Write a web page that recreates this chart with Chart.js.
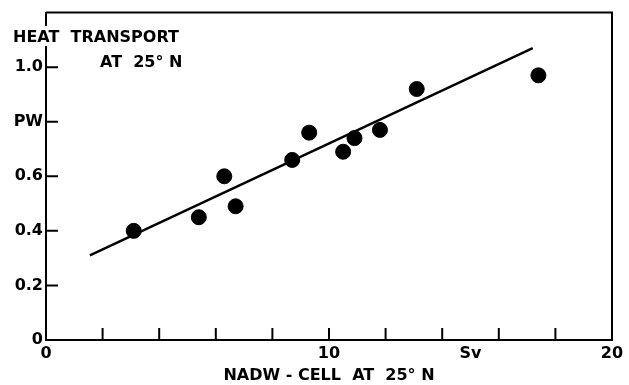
<!DOCTYPE html>
<html>
<head>
<meta charset="utf-8">
<script src="https://cdn.jsdelivr.net/npm/chart.js@4.4.1/dist/chart.umd.min.js"></script>
<style>
html,body{margin:0;padding:0;background:#fff;}
#wrap{width:629px;height:385px;position:relative;}
</style>
</head>
<body>
<div id="wrap"><canvas id="c" width="629" height="385"></canvas></div>
<script>
// NADW cell strength (Sv) and heat transport (PW) at 25°N
const nadwCell = [3.1, 5.4, 6.3, 6.7, 8.7, 9.3, 10.5, 10.9, 11.8, 13.1, 17.4];
const heatTransport = [0.40, 0.45, 0.60, 0.49, 0.66, 0.76, 0.69, 0.74, 0.77, 0.92, 0.97];
// regression line end points
const fitX = [1.55, 17.2];
const fitY = [0.31, 1.07];
// tick labels
const xTickLabels = {0: '0', 10: '10', 15: 'Sv', 20: '20'};
const yTickLabels = {0: '0', 0.2: '0.2', 0.4: '0.4', 0.6: '0.6', 0.8: 'PW', 1.0: '1.0'};
const xMarkTicks = [2, 4, 6, 8, 10, 12, 14, 16, 18];
const yMarkTicks = [0.2, 0.4, 0.6, 0.8, 1.0];
const yTitleLines = ['HEAT  TRANSPORT', 'AT  25° N'];
const xTitle = 'NADW - CELL  AT  25° N';

const FONT = 'DejaVu Sans';

const boxPlugin = {
  id: 'box',
  afterDraw(chart) {
    const ctx = chart.ctx, a = chart.chartArea;
    const xs = chart.scales.x, ys = chart.scales.y;
    ctx.save();
    ctx.strokeStyle = '#000';
    ctx.lineWidth = 2;
    // top and right borders
    ctx.beginPath();
    ctx.moveTo(a.left, a.top); ctx.lineTo(a.right, a.top); ctx.lineTo(a.right, a.bottom);
    ctx.stroke();
    // inward tick marks
    ctx.beginPath();
    xMarkTicks.forEach(v => { const px = xs.getPixelForValue(v); ctx.moveTo(px, a.bottom); ctx.lineTo(px, a.bottom - 12); });
    yMarkTicks.forEach(v => { const py = ys.getPixelForValue(v); ctx.moveTo(a.left, py); ctx.lineTo(a.left + 12, py); });
    ctx.stroke();
    // y title (overlaps the axis)
    ctx.font = 'bold 16px ' + FONT;
    ctx.textBaseline = 'alphabetic';
    ctx.textAlign = 'left';
    const w0 = ctx.measureText(yTitleLines[0]).width;
    ctx.fillStyle = '#fff';
    ctx.fillRect(12, 26, w0 + 4, 20);
    ctx.fillStyle = '#000';
    ctx.fillText(yTitleLines[0], 13, 42);
    ctx.fillText(yTitleLines[1], 100, 67);
    ctx.restore();
  }
};

new Chart(document.getElementById('c'), {
  type: 'scatter',
  data: {
    datasets: [
      {
        data: nadwCell.map((x, i) => ({x, y: heatTransport[i]})),
        backgroundColor: '#000', borderColor: '#000',
        pointRadius: 7.5, pointHoverRadius: 7.5, showLine: false
      },
      {
        data: fitX.map((x, i) => ({x, y: fitY[i]})),
        borderColor: '#000', borderWidth: 2.5, pointRadius: 0, showLine: true, fill: false
      }
    ]
  },
  plugins: [boxPlugin],
  options: {
    responsive: false,
    animation: false,
    events: [],
    layout: {padding: {top: 10, right: 17, left: 0, bottom: 0}},
    plugins: {legend: {display: false}, tooltip: {enabled: false}},
    scales: {
      x: {
        type: 'linear', min: 0, max: 20,
        afterFit(s) { s.height = 45; },
        border: {display: true, color: '#000', width: 2},
        grid: {display: true, drawOnChartArea: false, drawTicks: false},
        ticks: {
          stepSize: 1, autoSkip: false, maxRotation: 0, padding: 4,
          color: '#000', font: {family: FONT, size: 16, weight: 'bold'},
          callback: v => (xTickLabels[v] !== undefined ? xTickLabels[v] : '')
        },
        title: {display: true, text: xTitle, color: '#000', font: {family: FONT, size: 16, weight: 'bold'}, padding: {top: 0, bottom: 0}}
      },
      y: {
        type: 'linear', min: 0, max: 1.2,
        afterFit(s) { s.width = 46; },
        border: {display: true, color: '#000', width: 2},
        grid: {display: true, drawOnChartArea: false, drawTicks: false},
        ticks: {
          stepSize: 0.2, autoSkip: false, padding: 3,
          color: '#000', font: {family: FONT, size: 16, weight: 'bold'},
          callback: v => { const k = Math.round(v * 10) / 10; return yTickLabels[k] !== undefined ? yTickLabels[k] : ''; }
        }
      }
    }
  }
});
</script>
</body>
</html>
